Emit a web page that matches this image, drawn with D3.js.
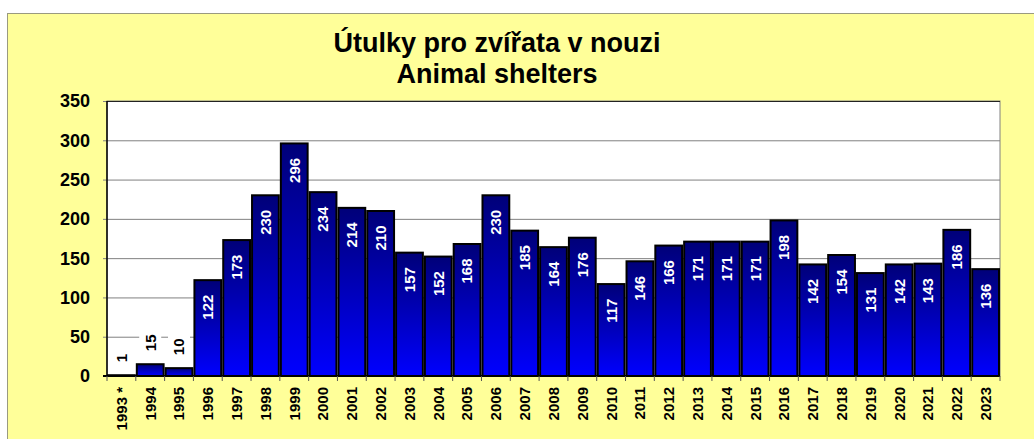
<!DOCTYPE html>
<html>
<head>
<meta charset="utf-8">
<script src="https://cdn.jsdelivr.net/npm/d3@7"></script>
<style>
  body { margin: 0; background: #fff; }
  svg { display: block; font-family: "Liberation Sans", Arial, sans-serif; }
</style>
</head>
<body>
<script>
// Animal shelters per year
const years = ['1993 *', '1994', '1995', '1996', '1997', '1998', '1999', '2000', '2001', '2002',
  '2003', '2004', '2005', '2006', '2007', '2008', '2009', '2010', '2011', '2012', '2013',
  '2014', '2015', '2016', '2017', '2018', '2019', '2020', '2021', '2022', '2023'];
const shelters = [1, 15, 10, 122, 173, 230, 296, 234, 214, 210,
  157, 152, 168, 230, 185, 164, 176, 117, 146, 166, 171,
  171, 171, 198, 142, 154, 131, 142, 143, 186, 136];
const yTicks = [0, 50, 100, 150, 200, 250, 300, 350];
const titleLines = ['Útulky pro zvířata v nouzi', 'Animal shelters'];

const width = 1034, height = 439;
const plot = { left: 107, top: 101, right: 1000, bottom: 376 };

let svg = d3.select('body').append('svg')
  .attr('width', width)
  .attr('height', height);

// gradient used for the bars, dark navy at the top to bright blue at the bottom
let grad = svg.append('defs').append('linearGradient')
  .attr('id', 'barGrad')
  .attr('x1', 0).attr('y1', 0).attr('x2', 0).attr('y2', 1);
grad.append('stop').attr('offset', '0%').attr('stop-color', '#000078');
grad.append('stop').attr('offset', '100%').attr('stop-color', '#0000ff');

// yellow chart background
svg.append('rect')
  .attr('x', 7.5).attr('y', 13.5)
  .attr('width', width).attr('height', height)
  .attr('fill', '#ffff99')
  .attr('stroke', '#9a9a80');

svg.selectAll('text.title')
  .data(titleLines)
  .enter().append('text')
  .attr('class', 'title')
  .attr('x', 497)
  .attr('y', (d, i) => 52 + i * 31)
  .attr('text-anchor', 'middle')
  .attr('font-size', 27)
  .attr('font-weight', 'bold')
  .text(d => d);

let x = d3.scaleBand()
  .domain(years)
  .range([plot.left, plot.right])
  .paddingInner(0.07)
  .paddingOuter(0.035);

let y = d3.scaleLinear()
  .domain([0, 350])
  .range([plot.bottom, plot.top]);

// plot area
svg.append('rect')
  .attr('x', plot.left).attr('y', plot.top)
  .attr('width', plot.right - plot.left)
  .attr('height', plot.bottom - plot.top)
  .attr('fill', '#fff')
  .attr('stroke', '#808080');

// gridlines + left tick marks
svg.append('g')
  .attr('transform', 'translate(' + plot.left + ',0)')
  .call(d3.axisLeft(y).tickValues(yTicks).tickSize(-(plot.right - plot.left)).tickSizeOuter(0).tickFormat(''))
  .call(g => g.select('.domain').remove())
  .call(g => g.selectAll('.tick line').attr('stroke', '#808080').attr('x1', -4));

svg.append('g')
  .selectAll('text')
  .data(yTicks)
  .enter().append('text')
  .attr('x', 90)
  .attr('y', d => y(d))
  .attr('dy', '0.36em')
  .attr('text-anchor', 'end')
  .attr('font-size', 18)
  .attr('font-weight', 'bold')
  .text(d => d);

svg.append('line')
  .attr('x1', plot.left).attr('x2', plot.right)
  .attr('y1', plot.top + 0.5).attr('y2', plot.top + 0.5)
  .attr('stroke', '#222');

// bars
let bars = svg.append('g')
  .selectAll('rect')
  .data(shelters)
  .enter().append('rect')
  .attr('x', (d, i) => x(years[i]))
  .attr('y', d => y(d))
  .attr('width', x.bandwidth())
  .attr('height', d => plot.bottom - y(d))
  .attr('fill', 'url(#barGrad)')
  .attr('stroke', '#000')
  .attr('stroke-width', 2);

// axis lines
svg.append('line')
  .attr('x1', plot.left).attr('x2', plot.left)
  .attr('y1', plot.top).attr('y2', plot.bottom)
  .attr('stroke', '#000').attr('stroke-width', 1.5);
svg.append('line')
  .attr('x1', plot.left - 4).attr('x2', plot.right)
  .attr('y1', plot.bottom).attr('y2', plot.bottom)
  .attr('stroke', '#000').attr('stroke-width', 2);

// tick marks between categories
svg.append('g')
  .selectAll('line')
  .data(d3.range(years.length + 1))
  .enter().append('line')
  .attr('x1', i => plot.left + i * (plot.right - plot.left) / years.length)
  .attr('x2', i => plot.left + i * (plot.right - plot.left) / years.length)
  .attr('y1', plot.bottom)
  .attr('y2', plot.bottom + 5)
  .attr('stroke', '#555');

// category labels, rotated
svg.append('g')
  .selectAll('text')
  .data(years)
  .enter().append('text')
  .attr('transform', d => 'translate(' + (x(d) + x.bandwidth() / 2) + ',387) rotate(-90)')
  .attr('dy', '0.36em')
  .attr('text-anchor', 'end')
  .attr('font-size', 15)
  .attr('font-weight', 'bold')
  .text(d => d);

// value labels: inside the bar for tall bars, above it for short ones
const inside = d => d > 40;
let labels = svg.append('g')
  .selectAll('g')
  .data(shelters)
  .enter().append('g')
  .attr('transform', (d, i) => {
    let cx = x(years[i]) + x.bandwidth() / 2;
    let yy = inside(d) ? y(d) + 14.5 : y(d) - 13;
    return 'translate(' + cx + ',' + yy + ') rotate(-90)';
  });

// white box behind the labels that sit above the bars (hides the gridline)
labels.filter(d => !inside(d))
  .append('rect')
  .attr('x', -3)
  .attr('y', -11)
  .attr('width', d => String(d).length * 8.4 + 6)
  .attr('height', 22)
  .attr('fill', '#fff');

labels.append('text')
  .attr('dy', '0.36em')
  .attr('text-anchor', d => inside(d) ? 'end' : 'start')
  .attr('fill', d => inside(d) ? '#fff' : '#000')
  .attr('font-size', 15)
  .attr('font-weight', 'bold')
  .text(d => d);
</script>
</body>
</html>
